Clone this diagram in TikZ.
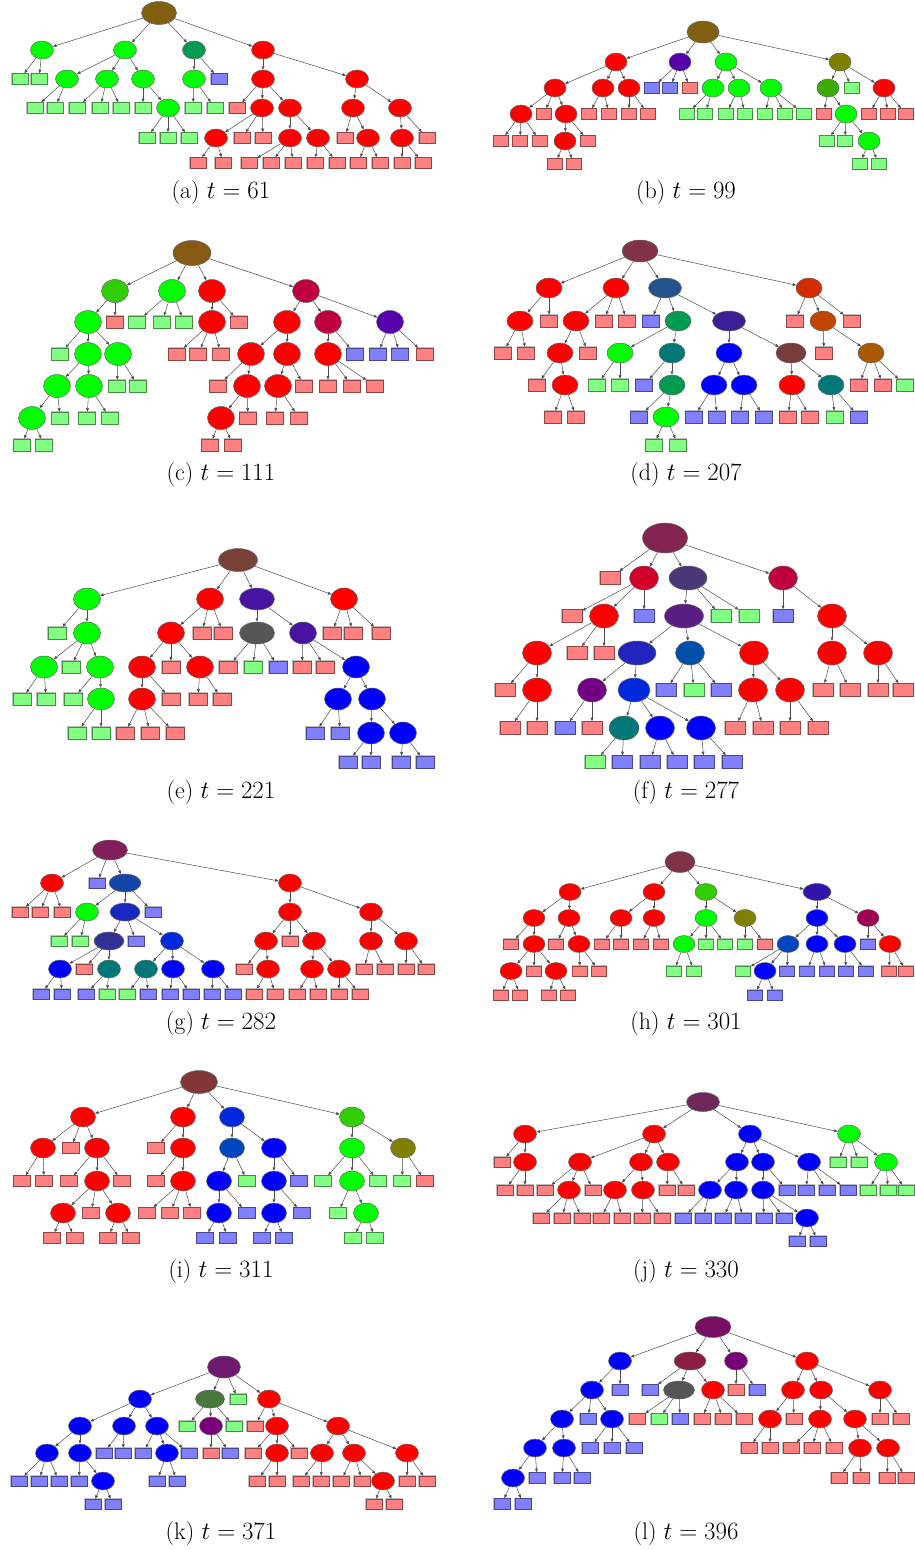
\documentclass[tikz,border=0pt]{standalone}
\usetikzlibrary{shapes.geometric,arrows.meta}

% leaf and inner colours
\definecolor{cr}{RGB}{255,0,0}
\definecolor{cg}{RGB}{0,255,0}
\definecolor{cb}{RGB}{0,0,255}
\definecolor{lr}{RGB}{255,128,128}
\definecolor{lg}{RGB}{128,255,128}
\definecolor{lb}{RGB}{128,128,255}
% mixed inner colours
\definecolor{cOchre}{RGB}{128,96,16}
\definecolor{cBrown}{RGB}{135,90,20}
\definecolor{cSea}{RGB}{0,155,80}
\definecolor{cPurp}{RGB}{85,0,170}
\definecolor{cOlive}{RGB}{128,128,0}
\definecolor{cYell}{RGB}{60,170,0}
\definecolor{cLime}{RGB}{50,205,0}
\definecolor{cCrim}{RGB}{190,0,60}
\definecolor{cMaroon}{RGB}{130,50,70}
\definecolor{cSteel}{RGB}{35,85,140}
\definecolor{cRust}{RGB}{210,45,0}
\definecolor{cIndigo}{RGB}{60,30,150}
\definecolor{cOrange}{RGB}{190,70,0}
\definecolor{cTeal}{RGB}{0,120,120}
\definecolor{cCocoa}{RGB}{120,60,60}
\definecolor{cAmber}{RGB}{170,90,0}
\definecolor{cUmber}{RGB}{120,65,55}
\definecolor{cViolet}{RGB}{70,20,160}
\definecolor{cGray}{RGB}{85,85,85}
\definecolor{cWine}{RGB}{130,35,80}
\definecolor{cScarlet}{RGB}{210,0,40}
\definecolor{cSlate}{RGB}{75,55,120}
\definecolor{cGrape}{RGB}{90,30,130}
\definecolor{cNavy}{RGB}{35,35,190}
\definecolor{cCobalt}{RGB}{0,80,170}
\definecolor{cPlum}{RGB}{115,0,130}
\definecolor{cAzure}{RGB}{0,40,220}
\definecolor{cBerry}{RGB}{130,30,90}
\definecolor{cRoyal}{RGB}{20,70,170}
\definecolor{cIris}{RGB}{25,40,190}
\definecolor{cDusk}{RGB}{50,50,150}
\definecolor{cDeep}{RGB}{50,20,170}
\definecolor{cRaspb}{RGB}{160,0,80}
\definecolor{cSapph}{RGB}{0,70,190}
\definecolor{cMahog}{RGB}{130,55,55}
\definecolor{cMulb}{RGB}{110,40,90}
\definecolor{cMagen}{RGB}{110,25,110}
\definecolor{cFern}{RGB}{70,120,60}
\definecolor{cOrchid}{RGB}{120,0,120}
\definecolor{cRuby}{RGB}{120,15,100}
\definecolor{cClaret}{RGB}{140,30,70}

\tikzset{
  ew/.store in=\ew, eh/.store in=\eh,
  rw/.store in=\rw, rh/.store in=\rh,
  bw/.store in=\bw, bh/.store in=\bh,
  nd/.style={ellipse, draw=black!60, line width=0.5pt, fill=#1,
    minimum width=\ew, minimum height=\eh, inner sep=0pt},
  rt/.style={nd=#1, minimum width=\rw, minimum height=\rh},
  lf/.style={rectangle, draw=#1!55!black, line width=0.6pt, fill=#1,
    preaction={draw=black!25, line width=1.8pt},
    minimum width=\bw, minimum height=\bh, inner sep=0pt},
  edge/.style={draw=black!70, line width=0.5pt,
    -{Triangle[length=3.5pt,width=2.8pt]}},
  subcap/.style={font=\fontsize{24}{29}\selectfont, inner sep=0pt}
}

% child node plus its edge from the parent
\newcommand\addkid[5][]{\node[#1] (#2) at (#4,#5) {}; \draw[edge] (#3) -- (#2);}

\begin{document}
\begin{tikzpicture}[x=1pt, y=-1pt]
  \useasboundingbox (0,0) rectangle (914,1550);

  % (a) t = 61
  \begin{scope}[ew=23pt, eh=18pt, rw=35pt, rh=23pt, bw=16pt, bh=11pt]
    \node[rt=cOchre] (a0) at (159,13) {};
    \addkid[nd=cg]{a1}{a0}{42}{50}
    \addkid[nd=cg]{a2}{a0}{125}{50}
    \addkid[nd=cSea]{a3}{a0}{194}{50}
    \addkid[nd=cr]{a4}{a0}{263}{50}
    \addkid[lf=lg]{a5}{a1}{20}{79}
    \addkid[lf=lg]{a6}{a1}{39}{79}
    \addkid[nd=cg]{a7}{a2}{67}{79}
    \addkid[nd=cg]{a8}{a2}{107}{79}
    \addkid[nd=cg]{a9}{a2}{143}{79}
    \addkid[nd=cg]{a10}{a3}{194}{79}
    \addkid[lf=lb]{a11}{a3}{219}{79}
    \addkid[nd=cr]{a12}{a4}{263}{79}
    \addkid[nd=cr]{a13}{a4}{357}{79}
    \addkid[lf=lg]{a14}{a7}{35}{108}
    \addkid[lf=lg]{a15}{a7}{55}{108}
    \addkid[lf=lg]{a16}{a8}{77}{108}
    \addkid[lf=lg]{a17}{a8}{100}{108}
    \addkid[lf=lg]{a18}{a8}{121}{108}
    \addkid[lf=lg]{a19}{a9}{143}{108}
    \addkid[nd=cg]{a20}{a9}{168}{108}
    \addkid[lf=lg]{a21}{a10}{193}{108}
    \addkid[lf=lg]{a22}{a10}{215}{108}
    \addkid[lf=lr]{a23}{a12}{237}{108}
    \addkid[nd=cr]{a24}{a12}{262}{108}
    \addkid[nd=cr]{a25}{a12}{290}{108}
    \addkid[nd=cr]{a26}{a13}{353}{108}
    \addkid[nd=cr]{a27}{a13}{400}{108}
    \addkid[lf=lg]{a28}{a20}{147}{138}
    \addkid[lf=lg]{a29}{a20}{168}{138}
    \addkid[lf=lg]{a30}{a20}{189}{138}
    \addkid[nd=cr]{a31}{a24}{216}{138}
    \addkid[lf=lr]{a32}{a24}{242}{138}
    \addkid[lf=lr]{a33}{a24}{263}{138}
    \addkid[nd=cr]{a34}{a25}{290}{138}
    \addkid[nd=cr]{a35}{a25}{318}{138}
    \addkid[lf=lr]{a36}{a26}{345}{138}
    \addkid[nd=cr]{a37}{a26}{368}{138}
    \addkid[nd=cr]{a38}{a27}{402}{138}
    \addkid[lf=lr]{a39}{a27}{427}{138}
    \addkid[lf=lr]{a40}{a31}{198}{163}
    \addkid[lf=lr]{a41}{a31}{223}{163}
    \addkid[lf=lr]{a42}{a34}{249}{163}
    \addkid[lf=lr]{a43}{a34}{271}{163}
    \addkid[lf=lr]{a44}{a34}{293}{163}
    \addkid[lf=lr]{a45}{a35}{315}{163}
    \addkid[lf=lr]{a46}{a35}{337}{163}
    \addkid[lf=lr]{a47}{a37}{358}{163}
    \addkid[lf=lr]{a48}{a37}{380}{163}
    \addkid[lf=lr]{a49}{a38}{402}{163}
    \addkid[lf=lr]{a50}{a38}{423}{163}
    \node[subcap] (capa) at (221,193) {(a) $t = 61$};
  \end{scope}

  % (b) t = 99
  \begin{scope}[ew=22pt, eh=18pt, rw=32pt, rh=22pt, bw=15pt, bh=11pt]
    \node[rt=cOchre] (b0) at (703,32) {};
    \addkid[nd=cr]{b1}{b0}{616}{62}
    \addkid[nd=cPurp]{b2}{b0}{680}{62}
    \addkid[nd=cg]{b3}{b0}{726}{62}
    \addkid[nd=cOlive]{b4}{b0}{840}{62}
    \addkid[nd=cr]{b5}{b1}{555}{88}
    \addkid[nd=cr]{b6}{b1}{603}{88}
    \addkid[nd=cr]{b7}{b1}{629}{88}
    \addkid[lf=lb]{b8}{b2}{652}{88}
    \addkid[lf=lb]{b9}{b2}{670}{88}
    \addkid[lf=lr]{b10}{b2}{690}{88}
    \addkid[nd=cg]{b11}{b3}{713}{88}
    \addkid[nd=cg]{b12}{b3}{739}{88}
    \addkid[nd=cg]{b13}{b3}{771}{88}
    \addkid[nd=cYell]{b14}{b4}{828}{88}
    \addkid[lf=lg]{b15}{b4}{852}{88}
    \addkid[nd=cr]{b16}{b4}{884}{88}
    \addkid[nd=cr]{b17}{b5}{521}{114}
    \addkid[lf=lr]{b18}{b5}{544}{114}
    \addkid[nd=cr]{b19}{b5}{566}{114}
    \addkid[lf=lr]{b20}{b6}{589}{114}
    \addkid[lf=lr]{b21}{b6}{609}{114}
    \addkid[lf=lr]{b22}{b7}{629}{114}
    \addkid[lf=lr]{b23}{b7}{648}{114}
    \addkid[lf=lg]{b24}{b11}{687}{114}
    \addkid[lf=lg]{b25}{b11}{705}{114}
    \addkid[lf=lg]{b26}{b12}{726}{114}
    \addkid[lf=lg]{b27}{b12}{745}{114}
    \addkid[lf=lg]{b28}{b13}{765}{114}
    \addkid[lf=lg]{b29}{b13}{785}{114}
    \addkid[lf=lg]{b30}{b13}{804}{114}
    \addkid[lf=lr]{b31}{b14}{824}{114}
    \addkid[nd=cg]{b32}{b14}{846}{114}
    \addkid[lf=lr]{b33}{b16}{869}{114}
    \addkid[lf=lr]{b34}{b16}{888}{114}
    \addkid[lf=lr]{b35}{b16}{906}{114}
    \addkid[lf=lr]{b36}{b17}{501}{141}
    \addkid[lf=lr]{b37}{b17}{520}{141}
    \addkid[lf=lr]{b38}{b17}{540}{141}
    \addkid[nd=cr]{b39}{b19}{565}{141}
    \addkid[lf=lr]{b40}{b19}{588}{141}
    \addkid[lf=lg]{b41}{b32}{827}{141}
    \addkid[lf=lg]{b42}{b32}{845}{141}
    \addkid[nd=cg]{b43}{b32}{869}{141}
    \addkid[lf=lr]{b44}{b39}{555}{164}
    \addkid[lf=lr]{b45}{b39}{574}{164}
    \addkid[lf=lg]{b46}{b43}{860}{164}
    \addkid[lf=lg]{b47}{b43}{879}{164}
    \node[subcap] (capb) at (686,193) {(b) $t = 99$};
  \end{scope}

  % (c) t = 111
  \begin{scope}[ew=27pt, eh=23pt, rw=38pt, rh=25pt, bw=17pt, bh=12pt]
    \node[rt=cBrown] (c0) at (192,253) {};
    \addkid[nd=cLime]{c1}{c0}{115}{291}
    \addkid[nd=cg]{c2}{c0}{172}{291}
    \addkid[nd=cr]{c3}{c0}{212}{291}
    \addkid[nd=cCrim]{c4}{c0}{306}{291}
    \addkid[nd=cg]{c5}{c1}{88}{322}
    \addkid[lf=lr]{c6}{c1}{115}{322}
    \addkid[lf=lg]{c7}{c2}{137}{322}
    \addkid[lf=lg]{c8}{c2}{162}{322}
    \addkid[lf=lg]{c9}{c2}{184}{322}
    \addkid[nd=cr]{c10}{c3}{212}{322}
    \addkid[lf=lr]{c11}{c3}{239}{322}
    \addkid[nd=cr]{c12}{c4}{287}{322}
    \addkid[nd=cCrim]{c13}{c4}{328}{322}
    \addkid[nd=cPurp]{c14}{c4}{390}{322}
    \addkid[lf=lg]{c15}{c5}{60}{354}
    \addkid[nd=cg]{c16}{c5}{88}{354}
    \addkid[nd=cg]{c17}{c5}{118}{354}
    \addkid[lf=lr]{c18}{c10}{177}{354}
    \addkid[lf=lr]{c19}{c10}{198}{354}
    \addkid[lf=lr]{c20}{c10}{221}{354}
    \addkid[nd=cr]{c21}{c12}{251}{354}
    \addkid[nd=cr]{c22}{c12}{287}{354}
    \addkid[nd=cr]{c23}{c13}{328}{354}
    \addkid[lf=lb]{c24}{c13}{355}{354}
    \addkid[lf=lb]{c25}{c14}{378}{354}
    \addkid[lf=lb]{c26}{c14}{400}{354}
    \addkid[lf=lr]{c27}{c14}{425}{354}
    \addkid[nd=cg]{c28}{c16}{57}{386}
    \addkid[nd=cg]{c29}{c16}{89}{386}
    \addkid[lf=lg]{c30}{c17}{117}{386}
    \addkid[lf=lg]{c31}{c17}{138}{386}
    \addkid[lf=lr]{c32}{c21}{218}{386}
    \addkid[nd=cr]{c33}{c21}{247}{386}
    \addkid[nd=cr]{c34}{c22}{278}{386}
    \addkid[lf=lr]{c35}{c22}{304}{386}
    \addkid[lf=lr]{c36}{c23}{328}{386}
    \addkid[lf=lr]{c37}{c23}{352}{386}
    \addkid[lf=lr]{c38}{c23}{375}{386}
    \addkid[nd=cg]{c39}{c28}{32}{418}
    \addkid[lf=lg]{c40}{c28}{60}{418}
    \addkid[lf=lg]{c41}{c29}{87}{418}
    \addkid[lf=lg]{c42}{c29}{110}{418}
    \addkid[nd=cr]{c43}{c33}{221}{418}
    \addkid[lf=lr]{c44}{c33}{248}{418}
    \addkid[lf=lr]{c45}{c34}{275}{418}
    \addkid[lf=lr]{c46}{c34}{299}{418}
    \addkid[lf=lg]{c47}{c39}{22}{445}
    \addkid[lf=lg]{c48}{c39}{44}{445}
    \addkid[lf=lr]{c49}{c43}{210}{445}
    \addkid[lf=lr]{c50}{c43}{233}{445}
    \node[subcap] (capc) at (221,475) {(c) $t = 111$};
  \end{scope}

  % (d) t = 207
  \begin{scope}[ew=26pt, eh=20pt, rw=36pt, rh=22pt, bw=17pt, bh=12pt]
    \node[rt=cMaroon] (d0) at (640,251) {};
    \addkid[nd=cr]{d1}{d0}{549}{288}
    \addkid[nd=cr]{d2}{d0}{616}{288}
    \addkid[nd=cSteel, minimum width=33pt]{d3}{d0}{665}{288}
    \addkid[nd=cRust]{d4}{d0}{809}{288}
    \addkid[nd=cr]{d5}{d1}{520}{321}
    \addkid[lf=lr]{d6}{d1}{549}{321}
    \addkid[nd=cr]{d7}{d2}{576}{321}
    \addkid[lf=lr]{d8}{d2}{604}{321}
    \addkid[lf=lr]{d9}{d2}{627}{321}
    \addkid[lf=lb]{d10}{d3}{651}{321}
    \addkid[nd=cSea]{d11}{d3}{678}{321}
    \addkid[nd=cIndigo, minimum width=33pt]{d12}{d3}{729}{321}
    \addkid[lf=lr]{d13}{d4}{795}{321}
    \addkid[nd=cOrange]{d14}{d4}{823}{321}
    \addkid[lf=lr]{d15}{d4}{852}{321}
    \addkid[lf=lr]{d16}{d5}{503}{353}
    \addkid[lf=lr]{d17}{d5}{526}{353}
    \addkid[nd=cr]{d18}{d7}{560}{353}
    \addkid[lf=lr]{d19}{d7}{588}{353}
    \addkid[nd=cg]{d20}{d11}{620}{353}
    \addkid[nd=cTeal]{d21}{d11}{672}{353}
    \addkid[nd=cb]{d22}{d12}{729}{353}
    \addkid[nd=cCocoa, minimum width=30pt]{d23}{d12}{791}{353}
    \addkid[lf=lr]{d24}{d14}{824}{353}
    \addkid[nd=cAmber]{d25}{d14}{871}{353}
    \addkid[lf=lr]{d26}{d18}{537}{385}
    \addkid[nd=cr]{d27}{d18}{565}{385}
    \addkid[lf=lg]{d28}{d20}{597}{385}
    \addkid[lf=lg]{d29}{d20}{620}{385}
    \addkid[lf=lb]{d30}{d21}{644}{385}
    \addkid[nd=cSea]{d31}{d21}{672}{385}
    \addkid[nd=cb]{d32}{d22}{714}{385}
    \addkid[nd=cb]{d33}{d22}{744}{385}
    \addkid[nd=cr]{d34}{d23}{792}{385}
    \addkid[nd=cTeal]{d35}{d23}{831}{385}
    \addkid[lf=lr]{d36}{d25}{859}{385}
    \addkid[lf=lr]{d37}{d25}{883}{385}
    \addkid[lf=lg]{d38}{d25}{905}{385}
    \addkid[lf=lr]{d39}{d27}{553}{417}
    \addkid[lf=lr]{d40}{d27}{576}{417}
    \addkid[lf=lb]{d41}{d31}{639}{417}
    \addkid[nd=cg]{d42}{d31}{666}{417}
    \addkid[lf=lb]{d43}{d32}{694}{417}
    \addkid[lf=lb]{d44}{d32}{717}{417}
    \addkid[lf=lb]{d45}{d33}{740}{417}
    \addkid[lf=lb]{d46}{d33}{764}{417}
    \addkid[lf=lr]{d47}{d34}{788}{417}
    \addkid[lf=lr]{d48}{d34}{810}{417}
    \addkid[lf=lg]{d49}{d35}{835}{417}
    \addkid[lf=lb]{d50}{d35}{859}{417}
    \addkid[lf=lg]{d51}{d42}{654}{445}
    \addkid[lf=lg]{d52}{d42}{678}{445}
    \node[subcap] (capd) at (686,475) {(d) $t = 207$};
  \end{scope}

  % (e) t = 221
  \begin{scope}[ew=27pt, eh=22pt, rw=39pt, rh=23pt, bw=18pt, bh=12pt]
    \node[rt=cUmber] (e0) at (238,560) {};
    \addkid[nd=cg]{e1}{e0}{87}{599}
    \addkid[nd=cr]{e2}{e0}{210}{599}
    \addkid[nd=cViolet, minimum width=35pt]{e3}{e0}{257}{599}
    \addkid[nd=cr]{e4}{e0}{344}{599}
    \addkid[lf=lg]{e5}{e1}{57}{633}
    \addkid[nd=cg]{e6}{e1}{87}{633}
    \addkid[nd=cr]{e7}{e2}{171}{633}
    \addkid[lf=lr]{e8}{e2}{202}{633}
    \addkid[lf=lr]{e9}{e2}{223}{633}
    \addkid[nd=cGray, minimum width=35pt]{e10}{e3}{257}{633}
    \addkid[nd=cViolet]{e11}{e3}{303}{633}
    \addkid[lf=lr]{e12}{e4}{332}{633}
    \addkid[lf=lr]{e13}{e4}{353}{633}
    \addkid[lf=lr]{e14}{e4}{381}{633}
    \addkid[nd=cg]{e15}{e6}{44}{667}
    \addkid[lf=lg]{e16}{e6}{71}{667}
    \addkid[nd=cg]{e17}{e6}{100}{667}
    \addkid[nd=cr]{e18}{e7}{142}{667}
    \addkid[lf=lr]{e19}{e7}{171}{667}
    \addkid[nd=cr]{e20}{e7}{200}{667}
    \addkid[lf=lr]{e21}{e10}{228}{667}
    \addkid[lf=lg]{e22}{e10}{253}{667}
    \addkid[lf=lb]{e23}{e10}{278}{667}
    \addkid[lf=lr]{e24}{e11}{302}{667}
    \addkid[lf=lr]{e25}{e11}{325}{667}
    \addkid[nd=cb]{e26}{e11}{356}{667}
    \addkid[lf=lg]{e27}{e15}{22}{699}
    \addkid[lf=lg]{e28}{e15}{46}{699}
    \addkid[lf=lg]{e29}{e17}{73}{699}
    \addkid[nd=cg]{e30}{e17}{101}{699}
    \addkid[nd=cr]{e31}{e18}{142}{699}
    \addkid[lf=lr]{e32}{e18}{171}{699}
    \addkid[lf=lr]{e33}{e20}{198}{699}
    \addkid[lf=lr]{e34}{e20}{222}{699}
    \addkid[nd=cb]{e35}{e26}{338}{699}
    \addkid[nd=cb]{e36}{e26}{372}{699}
    \addkid[lf=lg]{e37}{e30}{77}{733}
    \addkid[lf=lg]{e38}{e30}{101}{733}
    \addkid[lf=lr]{e39}{e31}{125}{733}
    \addkid[lf=lr]{e40}{e31}{150}{733}
    \addkid[lf=lr]{e41}{e31}{175}{733}
    \addkid[lf=lb]{e42}{e35}{315}{733}
    \addkid[lf=lb]{e43}{e35}{340}{733}
    \addkid[nd=cb]{e44}{e36}{371}{733}
    \addkid[nd=cb]{e45}{e36}{403}{733}
    \addkid[lf=lb]{e46}{e44}{348}{762}
    \addkid[lf=lb]{e47}{e44}{371}{762}
    \addkid[lf=lb]{e48}{e45}{401}{762}
    \addkid[lf=lb]{e49}{e45}{425}{762}
    \node[subcap] (cape) at (221,793) {(e) $t = 221$};
  \end{scope}

  % (f) t = 277
  \begin{scope}[ew=29pt, eh=24pt, rw=45pt, rh=30pt, bw=20pt, bh=13pt]
    \node[rt=cWine] (f0) at (665,538) {};
    \addkid[lf=lr]{f1}{f0}{610}{578}
    \addkid[nd=cScarlet]{f2}{f0}{644}{578}
    \addkid[nd=cSlate, minimum width=38pt]{f3}{f0}{688}{578}
    \addkid[nd=cCrim]{f4}{f0}{783}{578}
    \addkid[lf=lr]{f5}{f2}{572}{616}
    \addkid[nd=cr]{f6}{f2}{604}{616}
    \addkid[lf=lb]{f7}{f2}{644}{616}
    \addkid[nd=cGrape, minimum width=39pt]{f8}{f3}{684}{616}
    \addkid[lf=lg]{f9}{f3}{721}{616}
    \addkid[lf=lg]{f10}{f3}{749}{616}
    \addkid[lf=lb]{f11}{f4}{783}{616}
    \addkid[nd=cr]{f12}{f4}{832}{616}
    \addkid[nd=cr]{f13}{f6}{537}{653}
    \addkid[lf=lr]{f14}{f6}{577}{653}
    \addkid[lf=lr]{f15}{f6}{604}{653}
    \addkid[nd=cNavy, minimum width=38pt]{f16}{f8}{637}{653}
    \addkid[nd=cCobalt]{f17}{f8}{690}{653}
    \addkid[nd=cr]{f18}{f8}{754}{653}
    \addkid[nd=cr]{f19}{f12}{832}{653}
    \addkid[nd=cr]{f20}{f12}{878}{653}
    \addkid[lf=lr]{f21}{f13}{505}{690}
    \addkid[nd=cr]{f22}{f13}{537}{690}
    \addkid[nd=cPlum]{f23}{f16}{592}{690}
    \addkid[nd=cAzure, minimum width=32pt]{f24}{f16}{634}{690}
    \addkid[lf=lb]{f25}{f17}{666}{690}
    \addkid[lf=lg]{f26}{f17}{694}{690}
    \addkid[lf=lb]{f27}{f17}{721}{690}
    \addkid[nd=cr]{f28}{f18}{753}{690}
    \addkid[nd=cr]{f29}{f18}{790}{690}
    \addkid[lf=lr]{f30}{f19}{823}{690}
    \addkid[lf=lr]{f31}{f19}{850}{690}
    \addkid[lf=lr]{f32}{f20}{878}{690}
    \addkid[lf=lr]{f33}{f20}{903}{690}
    \addkid[lf=lr]{f34}{f22}{510}{728}
    \addkid[lf=lr]{f35}{f22}{537}{728}
    \addkid[lf=lb]{f36}{f23}{565}{728}
    \addkid[lf=lr]{f37}{f23}{592}{728}
    \addkid[nd=cTeal, minimum width=30pt]{f38}{f24}{624}{728}
    \addkid[nd=cb]{f39}{f24}{660}{728}
    \addkid[nd=cb]{f40}{f24}{701}{728}
    \addkid[lf=lr]{f41}{f28}{735}{728}
    \addkid[lf=lr]{f42}{f28}{763}{728}
    \addkid[lf=lr]{f43}{f29}{790}{728}
    \addkid[lf=lr]{f44}{f29}{818}{728}
    \addkid[lf=lg]{f45}{f38}{595}{762}
    \addkid[lf=lb]{f46}{f38}{622}{762}
    \addkid[lf=lb]{f47}{f39}{650}{762}
    \addkid[lf=lb]{f48}{f39}{677}{762}
    \addkid[lf=lb]{f49}{f40}{704}{762}
    \addkid[lf=lb]{f50}{f40}{732}{762}
    \node[subcap] (capf) at (686,793) {(f) $t = 277$};
  \end{scope}

  % (g) t = 282
  \begin{scope}[ew=23pt, eh=18pt, rw=35pt, rh=20pt, bw=16pt, bh=10pt]
    \node[rt=cBerry] (g0) at (110,850) {};
    \addkid[nd=cr]{g1}{g0}{52}{883}
    \addkid[lf=lb]{g2}{g0}{97}{883}
    \addkid[nd=cRoyal, minimum width=32pt]{g3}{g0}{125}{883}
    \addkid[nd=cr]{g4}{g0}{290}{883}
    \addkid[lf=lr]{g5}{g1}{20}{912}
    \addkid[lf=lr]{g6}{g1}{40}{912}
    \addkid[lf=lr]{g7}{g1}{62}{912}
    \addkid[nd=cg]{g8}{g3}{87}{912}
    \addkid[nd=cIris, minimum width=30pt]{g9}{g3}{125}{912}
    \addkid[lf=lb]{g10}{g3}{153}{912}
    \addkid[nd=cr]{g11}{g4}{290}{912}
    \addkid[nd=cr]{g12}{g4}{371}{912}
    \addkid[lf=lg]{g13}{g8}{59}{941}
    \addkid[lf=lg]{g14}{g8}{80}{941}
    \addkid[nd=cDusk, minimum width=30pt]{g15}{g9}{109}{941}
    \addkid[lf=lb]{g16}{g9}{136}{941}
    \addkid[nd=cAzure]{g17}{g9}{172}{941}
    \addkid[nd=cr]{g18}{g11}{266}{941}
    \addkid[lf=lr]{g19}{g11}{290}{941}
    \addkid[nd=cr]{g20}{g11}{314}{941}
    \addkid[nd=cr]{g21}{g12}{371}{941}
    \addkid[nd=cr]{g22}{g12}{406}{941}
    \addkid[nd=cb]{g23}{g15}{60}{969}
    \addkid[lf=lr]{g24}{g15}{84}{969}
    \addkid[nd=cTeal]{g25}{g15}{109}{969}
    \addkid[nd=cTeal]{g26}{g17}{146}{969}
    \addkid[nd=cb]{g27}{g17}{173}{969}
    \addkid[nd=cb]{g28}{g17}{213}{969}
    \addkid[lf=lr]{g29}{g18}{244}{969}
    \addkid[nd=cr]{g30}{g18}{268}{969}
    \addkid[nd=cr]{g31}{g20}{312}{969}
    \addkid[nd=cr]{g32}{g20}{339}{969}
    \addkid[lf=lr]{g33}{g21}{364}{969}
    \addkid[lf=lr]{g34}{g21}{385}{969}
    \addkid[lf=lr]{g35}{g22}{406}{969}
    \addkid[lf=lr]{g36}{g22}{426}{969}
    \addkid[lf=lb]{g37}{g23}{41}{994}
    \addkid[lf=lb]{g38}{g23}{62}{994}
    \addkid[lf=lb]{g39}{g25}{86}{994}
    \addkid[lf=lg]{g40}{g25}{107}{994}
    \addkid[lf=lg]{g41}{g26}{127}{994}
    \addkid[lf=lb]{g42}{g26}{148}{994}
    \addkid[lf=lb]{g43}{g27}{170}{994}
    \addkid[lf=lb]{g44}{g27}{191}{994}
    \addkid[lf=lb]{g45}{g28}{212}{994}
    \addkid[lf=lb]{g46}{g28}{233}{994}
    \addkid[lf=lr]{g47}{g30}{254}{994}
    \addkid[lf=lr]{g48}{g30}{275}{994}
    \addkid[lf=lr]{g49}{g31}{297}{994}
    \addkid[lf=lr]{g50}{g31}{318}{994}
    \addkid[lf=lr]{g51}{g32}{339}{994}
    \addkid[lf=lr]{g52}{g32}{360}{994}
    \node[subcap] (capg) at (221,1023) {(g) $t = 282$};
  \end{scope}

  % (h) t = 301
  \begin{scope}[ew=22pt, eh=17pt, rw=30pt, rh=21pt, bw=15pt, bh=10pt]
    \node[rt=cMaroon] (h0) at (680,862) {};
    \addkid[nd=cr]{h1}{h0}{570}{892}
    \addkid[nd=cr]{h2}{h0}{654}{892}
    \addkid[nd=cLime]{h3}{h0}{706}{892}
    \addkid[nd=cDeep, minimum width=28pt]{h4}{h0}{817}{892}
    \addkid[nd=cr]{h5}{h1}{534}{918}
    \addkid[nd=cr]{h6}{h1}{569}{918}
    \addkid[nd=cr]{h7}{h2}{621}{918}
    \addkid[nd=cr]{h8}{h2}{654}{918}
    \addkid[nd=cg]{h9}{h3}{706}{918}
    \addkid[nd=cOlive]{h10}{h3}{745}{918}
    \addkid[nd=cb]{h11}{h4}{817}{918}
    \addkid[nd=cRaspb]{h12}{h4}{868}{918}
    \addkid[lf=lr]{h13}{h5}{511}{944}
    \addkid[nd=cr]{h14}{h5}{534}{944}
    \addkid[lf=lr]{h15}{h6}{556}{944}
    \addkid[nd=cr]{h16}{h6}{579}{944}
    \addkid[lf=lr]{h17}{h7}{602}{944}
    \addkid[lf=lr]{h18}{h7}{621}{944}
    \addkid[lf=lr]{h19}{h8}{641}{944}
    \addkid[lf=lr]{h20}{h8}{661}{944}
    \addkid[nd=cg]{h21}{h9}{684}{944}
    \addkid[lf=lg]{h22}{h9}{706}{944}
    \addkid[lf=lg]{h23}{h9}{725}{944}
    \addkid[lf=lg]{h24}{h10}{745}{944}
    \addkid[lf=lr]{h25}{h10}{765}{944}
    \addkid[nd=cSapph]{h26}{h11}{788}{944}
    \addkid[nd=cb]{h27}{h11}{817}{944}
    \addkid[nd=cb]{h28}{h11}{845}{944}
    \addkid[lf=lb]{h29}{h12}{868}{944}
    \addkid[nd=cr]{h30}{h12}{890}{944}
    \addkid[nd=cr]{h31}{h14}{511}{971}
    \addkid[lf=lr]{h32}{h14}{534}{971}
    \addkid[nd=cr]{h33}{h14}{556}{971}
    \addkid[lf=lr]{h34}{h16}{580}{971}
    \addkid[lf=lr]{h35}{h16}{599}{971}
    \addkid[lf=lg]{h36}{h21}{674}{971}
    \addkid[lf=lg]{h37}{h21}{694}{971}
    \addkid[lf=lg]{h38}{h26}{743}{971}
    \addkid[nd=cb]{h39}{h26}{765}{971}
    \addkid[lf=lb]{h40}{h26}{787}{971}
    \addkid[lf=lb]{h41}{h27}{807}{971}
    \addkid[lf=lb]{h42}{h27}{827}{971}
    \addkid[lf=lb]{h43}{h28}{846}{971}
    \addkid[lf=lb]{h44}{h28}{866}{971}
    \addkid[lf=lr]{h45}{h30}{889}{971}
    \addkid[lf=lr]{h46}{h30}{906}{971}
    \addkid[lf=lr]{h47}{h31}{501}{995}
    \addkid[lf=lr]{h48}{h31}{520}{995}
    \addkid[lf=lr]{h49}{h33}{549}{995}
    \addkid[lf=lr]{h50}{h33}{568}{995}
    \addkid[lf=lb]{h51}{h39}{755}{995}
    \addkid[lf=lb]{h52}{h39}{775}{995}
    \node[subcap] (caph) at (686,1023) {(h) $t = 301$};
  \end{scope}

  % (i) t = 311
  \begin{scope}[ew=25pt, eh=20pt, rw=37pt, rh=23pt, bw=17pt, bh=11pt]
    \node[rt=cMahog] (i0) at (199,1082) {};
    \addkid[nd=cr]{i1}{i0}{83}{1117}
    \addkid[nd=cr]{i2}{i0}{183}{1117}
    \addkid[nd=cAzure]{i3}{i0}{232}{1117}
    \addkid[nd=cLime]{i4}{i0}{352}{1117}
    \addkid[nd=cr]{i5}{i1}{43}{1148}
    \addkid[lf=lr]{i6}{i1}{71}{1148}
    \addkid[nd=cr]{i7}{i1}{97}{1148}
    \addkid[lf=lr]{i8}{i2}{156}{1148}
    \addkid[nd=cr]{i9}{i2}{183}{1148}
    \addkid[nd=cSapph]{i10}{i3}{232}{1148}
    \addkid[nd=cb]{i11}{i3}{274}{1148}
    \addkid[nd=cg]{i12}{i4}{352}{1148}
    \addkid[nd=cOlive]{i13}{i4}{403}{1148}
    \addkid[lf=lr]{i14}{i5}{22}{1181}
    \addkid[lf=lr]{i15}{i5}{44}{1181}
    \addkid[lf=lr]{i16}{i7}{69}{1181}
    \addkid[nd=cr]{i17}{i7}{97}{1181}
    \addkid[lf=lr]{i18}{i7}{122}{1181}
    \addkid[lf=lr]{i19}{i9}{156}{1181}
    \addkid[nd=cr]{i20}{i9}{183}{1181}
    \addkid[nd=cb]{i21}{i10}{219}{1181}
    \addkid[lf=lg]{i22}{i10}{247}{1181}
    \addkid[nd=cb]{i23}{i11}{274}{1181}
    \addkid[lf=lb]{i24}{i11}{299}{1181}
    \addkid[lf=lg]{i25}{i12}{323}{1181}
    \addkid[nd=cg]{i26}{i12}{352}{1181}
    \addkid[lf=lg]{i27}{i12}{378}{1181}
    \addkid[lf=lg]{i28}{i13}{402}{1181}
    \addkid[lf=lr]{i29}{i13}{425}{1181}
    \addkid[nd=cr]{i30}{i17}{63}{1213}
    \addkid[lf=lr]{i31}{i17}{91}{1213}
    \addkid[nd=cr]{i32}{i17}{118}{1213}
    \addkid[lf=lr]{i33}{i20}{147}{1213}
    \addkid[lf=lr]{i34}{i20}{170}{1213}
    \addkid[lf=lr]{i35}{i20}{192}{1213}
    \addkid[nd=cb]{i36}{i21}{219}{1213}
    \addkid[lf=lb]{i37}{i21}{247}{1213}
    \addkid[nd=cb]{i38}{i23}{274}{1213}
    \addkid[lf=lb]{i39}{i23}{302}{1213}
    \addkid[lf=lg]{i40}{i26}{338}{1213}
    \addkid[nd=cg]{i41}{i26}{366}{1213}
    \addkid[lf=lr]{i42}{i30}{52}{1238}
    \addkid[lf=lr]{i43}{i30}{75}{1238}
    \addkid[lf=lr]{i44}{i32}{108}{1238}
    \addkid[lf=lr]{i45}{i32}{131}{1238}
    \addkid[lf=lb]{i46}{i36}{205}{1238}
    \addkid[lf=lb]{i47}{i36}{228}{1238}
    \addkid[lf=lb]{i48}{i38}{262}{1238}
    \addkid[lf=lb]{i49}{i38}{284}{1238}
    \addkid[lf=lg]{i50}{i41}{353}{1238}
    \addkid[lf=lg]{i51}{i41}{375}{1238}
    \node[subcap] (capi) at (221,1271) {(i) $t = 311$};
  \end{scope}

  % (j) t = 330
  \begin{scope}[ew=23pt, eh=18pt, rw=33pt, rh=19pt, bw=16pt, bh=10pt]
    \node[rt=cMulb] (j0) at (703,1102) {};
    \addkid[nd=cr]{j1}{j0}{525}{1134}
    \addkid[nd=cr]{j2}{j0}{654}{1134}
    \addkid[nd=cb]{j3}{j0}{750}{1134}
    \addkid[nd=cg]{j4}{j0}{849}{1134}
    \addkid[lf=lr]{j5}{j1}{502}{1162}
    \addkid[nd=cr]{j6}{j1}{525}{1162}
    \addkid[nd=cr]{j7}{j2}{580}{1162}
    \addkid[nd=cr]{j8}{j2}{641}{1162}
    \addkid[nd=cr]{j9}{j2}{668}{1162}
    \addkid[nd=cb]{j10}{j3}{737}{1162}
    \addkid[nd=cb]{j11}{j3}{763}{1162}
    \addkid[nd=cb]{j12}{j3}{809}{1162}
    \addkid[lf=lg]{j13}{j4}{838}{1162}
    \addkid[lf=lg]{j14}{j4}{859}{1162}
    \addkid[nd=cg]{j15}{j4}{886}{1162}
    \addkid[lf=lr]{j16}{j6}{505}{1190}
    \addkid[lf=lr]{j17}{j6}{525}{1190}
    \addkid[lf=lr]{j18}{j7}{545}{1190}
    \addkid[nd=cr]{j19}{j7}{569}{1190}
    \addkid[lf=lr]{j20}{j7}{593}{1190}
    \addkid[nd=cr]{j21}{j8}{615}{1190}
    \addkid[nd=cr]{j22}{j8}{643}{1190}
    \addkid[lf=lr]{j23}{j9}{667}{1190}
    \addkid[lf=lr]{j24}{j9}{686}{1190}
    \addkid[nd=cb]{j25}{j10}{710}{1190}
    \addkid[nd=cb]{j26}{j10}{736}{1190}
    \addkid[nd=cb]{j27}{j11}{763}{1190}
    \addkid[lf=lb]{j28}{j11}{787}{1190}
    \addkid[lf=lb]{j29}{j12}{806}{1190}
    \addkid[lf=lb]{j30}{j12}{827}{1190}
    \addkid[lf=lb]{j31}{j12}{848}{1190}
    \addkid[lf=lg]{j32}{j15}{868}{1190}
    \addkid[lf=lg]{j33}{j15}{888}{1190}
    \addkid[lf=lg]{j34}{j15}{906}{1190}
    \addkid[lf=lr]{j35}{j19}{541}{1218}
    \addkid[lf=lr]{j36}{j19}{562}{1218}
    \addkid[lf=lr]{j37}{j19}{582}{1218}
    \addkid[lf=lr]{j38}{j21}{601}{1218}
    \addkid[lf=lr]{j39}{j21}{622}{1218}
    \addkid[lf=lr]{j40}{j22}{642}{1218}
    \addkid[lf=lr]{j41}{j22}{662}{1218}
    \addkid[lf=lb]{j42}{j25}{683}{1218}
    \addkid[lf=lb]{j43}{j25}{703}{1218}
    \addkid[lf=lb]{j44}{j26}{723}{1218}
    \addkid[lf=lb]{j45}{j26}{743}{1218}
    \addkid[lf=lb]{j46}{j27}{764}{1218}
    \addkid[lf=lb]{j47}{j27}{784}{1218}
    \addkid[nd=cb]{j48}{j27}{807}{1218}
    \addkid[lf=lb]{j49}{j48}{797}{1241}
    \addkid[lf=lb]{j50}{j48}{818}{1241}
    \node[subcap] (capj) at (686,1271) {(j) $t = 330$};
  \end{scope}

  % (k) t = 371
  \begin{scope}[ew=23pt, eh=18pt, rw=33pt, rh=22pt, bw=16pt, bh=10pt]
    \node[rt=cMagen] (k0) at (224,1367) {};
    \addkid[nd=cb]{k1}{k0}{140}{1399}
    \addkid[nd=cFern, minimum width=29pt]{k2}{k0}{210}{1399}
    \addkid[lf=lg]{k3}{k0}{238}{1399}
    \addkid[nd=cr]{k4}{k0}{269}{1399}
    \addkid[nd=cb]{k5}{k1}{80}{1426}
    \addkid[nd=cb]{k6}{k1}{124}{1426}
    \addkid[nd=cb]{k7}{k1}{157}{1426}
    \addkid[lf=lg]{k8}{k2}{187}{1426}
    \addkid[nd=cOrchid]{k9}{k2}{211}{1426}
    \addkid[lf=lg]{k10}{k2}{234}{1426}
    \addkid[lf=lr]{k11}{k4}{255}{1426}
    \addkid[nd=cr]{k12}{k4}{277}{1426}
    \addkid[nd=cr]{k13}{k4}{338}{1426}
    \addkid[nd=cb]{k14}{k5}{47}{1453}
    \addkid[nd=cb]{k15}{k5}{80}{1453}
    \addkid[lf=lb]{k16}{k6}{104}{1453}
    \addkid[lf=lb]{k17}{k6}{123}{1453}
    \addkid[lf=lb]{k18}{k7}{143}{1453}
    \addkid[nd=cb]{k19}{k7}{167}{1453}
    \addkid[lf=lb]{k20}{k7}{189}{1453}
    \addkid[lf=lr]{k21}{k9}{211}{1453}
    \addkid[lf=lb]{k22}{k9}{230}{1453}
    \addkid[lf=lr]{k23}{k12}{253}{1453}
    \addkid[nd=cr]{k24}{k12}{277}{1453}
    \addkid[lf=lr]{k25}{k12}{299}{1453}
    \addkid[nd=cr]{k26}{k13}{322}{1453}
    \addkid[nd=cr]{k27}{k13}{354}{1453}
    \addkid[nd=cr]{k28}{k13}{407}{1453}
    \addkid[lf=lb]{k29}{k14}{19}{1481}
    \addkid[lf=lb]{k30}{k14}{39}{1481}
    \addkid[lf=lb]{k31}{k14}{59}{1481}
    \addkid[lf=lb]{k32}{k15}{79}{1481}
    \addkid[nd=cb]{k33}{k15}{103}{1481}
    \addkid[lf=lb]{k34}{k19}{157}{1481}
    \addkid[lf=lb]{k35}{k19}{177}{1481}
    \addkid[lf=lr]{k36}{k24}{257}{1481}
    \addkid[lf=lr]{k37}{k24}{277}{1481}
    \addkid[lf=lr]{k38}{k26}{301}{1481}
    \addkid[lf=lr]{k39}{k26}{321}{1481}
    \addkid[lf=lr]{k40}{k27}{341}{1481}
    \addkid[lf=lr]{k41}{k27}{362}{1481}
    \addkid[nd=cr]{k42}{k27}{383}{1481}
    \addkid[lf=lr]{k43}{k28}{407}{1481}
    \addkid[lf=lr]{k44}{k28}{427}{1481}
    \addkid[lf=lb]{k45}{k33}{93}{1504}
    \addkid[lf=lb]{k46}{k33}{113}{1504}
    \addkid[lf=lr]{k47}{k42}{374}{1504}
    \addkid[lf=lr]{k48}{k42}{394}{1504}
    \node[subcap] (capk) at (221,1533) {(k) $t = 371$};
  \end{scope}

  % (l) t = 396
  \begin{scope}[ew=23pt, eh=18pt, rw=36pt, rh=21pt, bw=16pt, bh=11pt]
    \node[rt=cRuby] (l0) at (713,1327) {};
    \addkid[nd=cb]{l1}{l0}{620}{1361}
    \addkid[nd=cClaret, minimum width=32pt]{l2}{l0}{690}{1361}
    \addkid[nd=cOrchid]{l3}{l0}{736}{1361}
    \addkid[nd=cr]{l4}{l0}{807}{1361}
    \addkid[nd=cb]{l5}{l1}{592}{1390}
    \addkid[lf=lb]{l6}{l1}{620}{1390}
    \addkid[lf=lb]{l7}{l2}{650}{1390}
    \addkid[nd=cGray, minimum width=31pt]{l8}{l2}{679}{1390}
    \addkid[nd=cr]{l9}{l2}{713}{1390}
    \addkid[lf=lr]{l10}{l3}{736}{1390}
    \addkid[lf=lb]{l11}{l3}{757}{1390}
    \addkid[nd=cr]{l12}{l4}{793}{1390}
    \addkid[nd=cr]{l13}{l4}{821}{1390}
    \addkid[nd=cr]{l14}{l4}{880}{1390}
    \addkid[nd=cb]{l15}{l5}{562}{1419}
    \addkid[lf=lb]{l16}{l5}{588}{1419}
    \addkid[nd=cb]{l17}{l5}{612}{1419}
    \addkid[lf=lr]{l18}{l8}{637}{1419}
    \addkid[lf=lg]{l19}{l8}{659}{1419}
    \addkid[lf=lb]{l20}{l8}{680}{1419}
    \addkid[lf=lr]{l21}{l9}{702}{1419}
    \addkid[lf=lr]{l22}{l9}{723}{1419}
    \addkid[lf=lr]{l23}{l9}{744}{1419}
    \addkid[nd=cr]{l24}{l12}{770}{1419}
    \addkid[lf=lr]{l25}{l12}{794}{1419}
    \addkid[nd=cr]{l26}{l13}{820}{1419}
    \addkid[nd=cr]{l27}{l13}{855}{1419}
    \addkid[lf=lr]{l28}{l14}{880}{1419}
    \addkid[lf=lr]{l29}{l14}{901}{1419}
    \addkid[nd=cb]{l30}{l15}{535}{1448}
    \addkid[nd=cb]{l31}{l15}{564}{1448}
    \addkid[lf=lb]{l32}{l17}{590}{1448}
    \addkid[lf=lb]{l33}{l17}{612}{1448}
    \addkid[lf=lb]{l34}{l17}{634}{1448}
    \addkid[lf=lr]{l35}{l24}{749}{1448}
    \addkid[lf=lr]{l36}{l24}{770}{1448}
    \addkid[lf=lr]{l37}{l26}{791}{1448}
    \addkid[lf=lr]{l38}{l26}{812}{1448}
    \addkid[lf=lr]{l39}{l26}{834}{1448}
    \addkid[nd=cr]{l40}{l27}{860}{1448}
    \addkid[nd=cr]{l41}{l27}{888}{1448}
    \addkid[nd=cb]{l42}{l30}{513}{1478}
    \addkid[lf=lb]{l43}{l30}{537}{1478}
    \addkid[lf=lb]{l44}{l31}{562}{1478}
    \addkid[lf=lb]{l45}{l31}{582}{1478}
    \addkid[lf=lr]{l46}{l40}{839}{1478}
    \addkid[lf=lr]{l47}{l40}{861}{1478}
    \addkid[lf=lr]{l48}{l41}{887}{1478}
    \addkid[lf=lr]{l49}{l41}{906}{1478}
    \addkid[lf=lb]{l50}{l42}{502}{1504}
    \addkid[lf=lb]{l51}{l42}{523}{1504}
    \node[subcap] (capl) at (686,1533) {(l) $t = 396$};
  \end{scope}
\end{tikzpicture}
\end{document}
